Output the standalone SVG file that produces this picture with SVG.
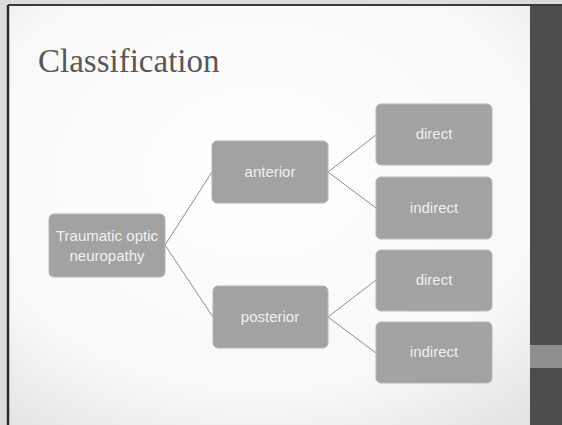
<svg xmlns="http://www.w3.org/2000/svg" width="562" height="425" viewBox="0 0 562 425">
<defs>
<radialGradient id="bg" cx="0.45" cy="0.4" r="0.75">
<stop offset="0" stop-color="#ffffff"/>
<stop offset="0.7" stop-color="#f8f8f8"/>
<stop offset="1" stop-color="#e4e4e4"/>
</radialGradient>
<style>
.node rect{fill:#a2a2a2;stroke:#b5b5b5;stroke-width:1}
.node text{font-family:"Liberation Sans",Arial,sans-serif;font-size:15px;fill:#efefef;text-anchor:middle}
#connectors line{stroke:#8c8c8c;stroke-width:1}
</style>
</defs>
<rect x="0" y="0" width="562" height="425" fill="#dcdcdc"/>
<rect x="8" y="5" width="554" height="420" fill="url(#bg)"/>
<line x1="8" y1="5" x2="8" y2="425" stroke="#2a2a2a" stroke-width="2.5"/>
<line x1="8" y1="5" x2="562" y2="5" stroke="#3a3a3a" stroke-width="2"/>
<rect x="530" y="6" width="32" height="419" fill="#4d4d4d"/>
<rect x="530" y="345" width="32" height="23" fill="#8e8e8e"/>
<text x="38" y="72" font-family="'Liberation Serif','Times New Roman',serif" font-size="33" fill="#585858">Classification</text>
<g id="connectors">
<line x1="165" y1="245" x2="212" y2="172"/>
<line x1="165" y1="245" x2="213" y2="317"/>
<line x1="328" y1="172" x2="376" y2="135"/>
<line x1="328" y1="172" x2="376" y2="208"/>
<line x1="328" y1="317" x2="376" y2="280"/>
<line x1="328" y1="317" x2="376" y2="353"/>
</g>
<g id="root" class="node">
<rect x="49" y="214" width="116" height="63" rx="5"/>
<text x="107" y="241">Traumatic optic</text>
<text x="107" y="261">neuropathy</text>
</g>
<g id="anterior" class="node">
<rect x="212" y="141" width="116" height="62" rx="5"/>
<text x="270" y="177">anterior</text>
</g>
<g id="posterior" class="node">
<rect x="213" y="286" width="115" height="62" rx="5"/>
<text x="270" y="322">posterior</text>
</g>
<g id="direct1" class="node">
<rect x="376" y="104" width="116" height="61" rx="5"/>
<text x="434" y="139">direct</text>
</g>
<g id="indirect1" class="node">
<rect x="376" y="177" width="116" height="62" rx="5"/>
<text x="434" y="213">indirect</text>
</g>
<g id="direct2" class="node">
<rect x="376" y="250" width="116" height="61" rx="5"/>
<text x="434" y="285">direct</text>
</g>
<g id="indirect2" class="node">
<rect x="376" y="322" width="116" height="61" rx="5"/>
<text x="434" y="357">indirect</text>
</g>
</svg>
